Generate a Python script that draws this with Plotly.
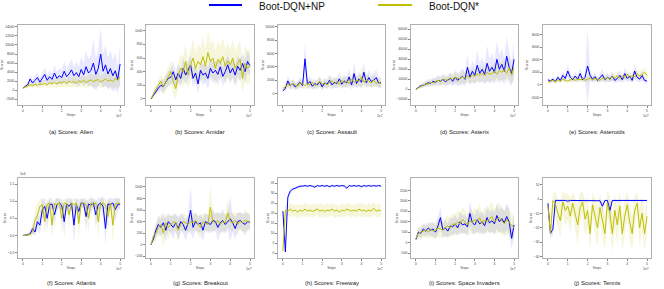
import plotly.graph_objects as go

# training steps (units of 1e7)
STEPS = [i * 0.125 for i in range(41)]

GAMES = ["Alien", "Amidar", "Assault", "Asterix", "Asteroids",
         "Atlantis", "Breakout", "Freeway", "Space Invaders", "Tennis"]
LETTERS = ["a", "b", "c", "d", "e", "f", "g", "h", "i", "j"]
LEGEND_NAMES = ["Boot-DQN+NP", "Boot-DQN*"]

# ---- Boot-DQN+NP (blue) means and spreads, Boot-DQN* (yellow) means and spreads ----
np_alien = [500, 900, 1200, 2500, 1600, 2200, 2800, 1800, 2600, 3500, 2200, 3000, 2400, 3800, 2600, 3200, 2800, 4200, 3000, 3600, 4500, 3200, 3900, 3000, 4600, 3400, 5200, 3800, 4400, 6000, 3500, 4800, 8000, 4200, 5600, 3600, 4800, 3200, 4300, 2400, 5800]
np_alien_sd = [200, 400, 600, 900, 800, 1000, 1100, 1000, 1200, 1500, 1200, 1400, 1300, 1800, 1500, 1700, 1600, 2200, 1800, 2000, 2500, 2000, 2400, 2200, 2800, 2500, 3500, 3000, 3200, 5500, 3500, 4000, 6000, 3800, 4500, 3500, 4200, 3500, 4000, 3000, 4500]
st_alien = [500, 700, 900, 1200, 1000, 1300, 1100, 1400, 1300, 1500, 1200, 1600, 1500, 1700, 1400, 1800, 1600, 1900, 1500, 2000, 1700, 1900, 1600, 2100, 1800, 2200, 1700, 2000, 2300, 1900, 2100, 2400, 1800, 2200, 2500, 2000, 2300, 1900, 2600, 2200, 3000]
st_alien_sd = [100, 300, 400, 500, 500, 600, 600, 700, 700, 800, 700, 900, 900, 1000, 900, 1000, 1000, 1100, 1000, 1200, 1100, 1200, 1100, 1300, 1200, 1300, 1200, 1300, 1400, 1300, 1400, 1500, 1300, 1500, 1600, 1400, 1600, 1500, 1800, 1600, 2000]

np_amidar = [0, 60, 120, 160, 200, 180, 250, 300, 320, 400, 280, 380, 300, 450, 350, 420, 500, 300, 380, 220, 420, 350, 380, 300, 450, 380, 420, 360, 470, 330, 400, 500, 380, 450, 350, 480, 420, 520, 400, 550, 480]
np_amidar_sd = [20, 40, 50, 60, 80, 90, 100, 110, 120, 150, 130, 140, 120, 150, 140, 130, 150, 140, 130, 150, 140, 150, 130, 160, 140, 150, 140, 160, 150, 140, 150, 160, 150, 140, 160, 150, 160, 150, 170, 160, 150]
st_amidar = [0, 80, 140, 200, 260, 180, 250, 320, 400, 250, 150, 350, 450, 400, 550, 350, 500, 600, 450, 550, 500, 620, 480, 680, 550, 600, 450, 580, 520, 620, 480, 560, 500, 600, 450, 520, 580, 300, 520, 450, 500]
st_amidar_sd = [20, 40, 60, 80, 100, 120, 130, 150, 160, 180, 150, 170, 200, 220, 250, 200, 230, 280, 220, 260, 250, 300, 240, 320, 260, 280, 250, 270, 260, 280, 250, 260, 240, 270, 250, 260, 280, 200, 260, 240, 250]

np_assault = [400, 800, 1900, 1200, 1500, 1000, 1300, 1700, 1200, 5200, 1400, 1800, 1100, 1500, 1300, 1800, 1000, 1600, 1400, 2000, 1300, 1700, 1500, 2200, 1400, 1900, 1600, 2500, 1300, 3000, 1500, 2200, 1700, 3200, 1600, 2400, 1800, 2000, 2400, 1600, 1600]
np_assault_sd = [200, 400, 800, 600, 700, 500, 600, 700, 600, 2500, 700, 800, 600, 700, 650, 800, 600, 700, 700, 900, 700, 800, 750, 1000, 700, 900, 800, 1300, 700, 1800, 800, 1100, 900, 1600, 800, 1200, 900, 1000, 1200, 800, 800]
st_assault = [800, 1000, 1400, 1200, 1500, 1300, 1100, 1600, 1400, 1200, 1500, 1300, 1700, 1200, 1500, 1800, 1400, 1600, 1300, 1700, 1900, 1500, 1800, 1400, 2000, 1600, 1900, 1500, 2200, 1700, 2000, 1800, 2500, 1700, 2100, 1900, 1600, 2000, 1500, 1800, 1400]
st_assault_sd = [300, 400, 600, 500, 600, 550, 500, 700, 600, 550, 650, 600, 700, 550, 650, 750, 600, 700, 600, 750, 800, 650, 750, 600, 850, 700, 800, 650, 900, 750, 850, 800, 1500, 750, 900, 800, 700, 850, 650, 750, 600]

np_asterix = [0, 2000, 3500, 4000, 5000, 6500, 6000, 8000, 7000, 9000, 8000, 10000, 7500, 9000, 11000, 8000, 12000, 9000, 11000, 13000, 10000, 22000, 12000, 18000, 14000, 24000, 16000, 20000, 15000, 26000, 18000, 22000, 17000, 30000, 20000, 25000, 18000, 33000, 22000, 16000, 30000]
np_asterix_sd = [500, 1500, 2000, 2500, 3000, 3500, 3500, 4000, 4000, 5000, 4500, 5500, 4500, 5000, 6000, 5000, 7000, 6000, 7000, 8000, 7000, 12000, 8000, 11000, 9000, 15000, 10000, 12000, 10000, 18000, 12000, 14000, 12000, 18000, 14000, 16000, 13000, 20000, 15000, 13000, 18000]
st_asterix = [0, 1500, 3000, 4000, 5500, 5000, 7000, 6500, 8000, 9000, 7500, 9500, 10000, 8500, 11000, 10000, 12000, 11000, 10500, 12500, 11000, 13000, 12000, 14000, 13000, 15000, 14000, 16000, 13500, 17000, 15000, 16000, 18000, 15000, 19000, 17000, 20000, 16000, 21000, 14000, 22000]
st_asterix_sd = [300, 1000, 1500, 2000, 2500, 2500, 3000, 3000, 3500, 4000, 3500, 4000, 4500, 4000, 5000, 5000, 5500, 5000, 5000, 6000, 5500, 6500, 6000, 7000, 6500, 7500, 7000, 8000, 7000, 8500, 7500, 8000, 9000, 8000, 9500, 9000, 10000, 9000, 11000, 9000, 12000]

np_asteroids = [800, 600, 900, 500, 1200, 700, 1500, 1000, 2200, 1200, 800, 1400, 900, 1800, 800, 1200, 3000, 1500, 900, 1300, 700, 1100, 1600, 800, 1200, 900, 1400, 700, 1000, 1500, 800, 1800, 1000, 1400, 700, 2200, 1200, 900, 1500, 700, 600]
np_asteroids_sd = [300, 300, 400, 300, 500, 400, 700, 500, 1000, 600, 400, 700, 500, 900, 400, 600, 6000, 800, 500, 700, 400, 600, 900, 500, 700, 500, 800, 400, 600, 900, 500, 1000, 600, 800, 400, 1200, 700, 500, 900, 400, 400]
st_asteroids = [400, 600, 700, 500, 800, 600, 900, 700, 600, 800, 1000, 700, 900, 800, 1000, 700, 900, 1100, 800, 1000, 900, 700, 1100, 900, 1200, 800, 1300, 1100, 1500, 1000, 1400, 1200, 1700, 1100, 1500, 1300, 1800, 1400, 1600, 2000, 1500]
st_asteroids_sd = [200, 300, 300, 300, 400, 300, 400, 350, 300, 400, 450, 350, 400, 400, 450, 350, 400, 500, 400, 450, 400, 350, 500, 400, 550, 400, 600, 500, 650, 450, 600, 550, 700, 500, 650, 600, 750, 600, 700, 800, 600]

np_atlantis = [0.0, 0.0, 0.02, 0.05, 0.2, 0.1, 0.4, 0.3, 0.75, 0.85, 0.5, 0.9, 0.92, 0.6, 0.9, 0.95, 0.88, 0.4, 0.92, 0.85, 0.95, 0.3, 0.9, 0.7, 0.95, 0.93, 0.55, 0.92, 0.88, 0.95, 0.6, 0.9, 0.95, 0.85, 0.2, 0.92, 0.9, 0.95, 0.75, 0.9, 0.92]
np_atlantis_sd = [0.02, 0.02, 0.03, 0.05, 0.15, 0.12, 0.25, 0.25, 0.3, 0.25, 0.35, 0.2, 0.15, 0.35, 0.2, 0.12, 0.2, 0.45, 0.15, 0.25, 0.12, 0.55, 0.2, 0.35, 0.12, 0.15, 0.45, 0.15, 0.25, 0.12, 0.4, 0.2, 0.15, 0.3, 0.5, 0.15, 0.2, 0.12, 0.35, 0.2, 0.15]
st_atlantis = [0.0, 0.0, 0.01, 0.03, 0.1, 0.45, 0.6, 0.85, 0.9, 0.4, 0.92, 0.95, 0.3, 0.93, 0.9, 0.95, 0.5, 0.95, 0.93, 0.6, 0.95, 0.9, 0.95, 0.35, 0.93, 0.95, 0.9, 0.5, 0.95, 0.92, 0.95, 0.4, 0.93, 0.95, 0.9, 0.55, 0.95, 0.3, 0.92, 0.95, 0.93]
st_atlantis_sd = [0.02, 0.02, 0.03, 0.05, 0.12, 0.3, 0.35, 0.2, 0.2, 0.4, 0.15, 0.12, 0.45, 0.15, 0.2, 0.12, 0.45, 0.12, 0.15, 0.4, 0.12, 0.2, 0.12, 0.5, 0.15, 0.12, 0.2, 0.45, 0.12, 0.15, 0.12, 0.5, 0.15, 0.12, 0.2, 0.45, 0.12, 0.5, 0.15, 0.12, 0.15]

np_breakout = [0, 100, 250, 350, 300, 380, 250, 400, 350, 300, 380, 280, 400, 350, 250, 380, 600, 300, 400, 350, 380, 250, 400, 380, 350, 420, 400, 300, 380, 420, 350, 400, 450, 380, 280, 400, 420, 380, 350, 400, 390]
np_breakout_sd = [20, 60, 120, 150, 150, 180, 200, 150, 150, 200, 150, 200, 150, 150, 180, 150, 400, 200, 150, 150, 150, 200, 150, 150, 150, 200, 150, 250, 150, 200, 150, 150, 400, 150, 200, 150, 150, 150, 200, 150, 120]
st_breakout = [0, 150, 200, 300, 350, 200, 380, 300, 350, 400, 380, 250, 350, 400, 380, 350, 400, 380, 420, 350, 300, 400, 380, 350, 650, 400, 380, 420, 350, 400, 380, 550, 400, 380, 420, 350, 400, 380, 420, 400, 390]
st_breakout_sd = [20, 80, 150, 150, 200, 250, 150, 200, 150, 150, 150, 200, 150, 150, 150, 150, 150, 150, 150, 150, 200, 150, 150, 150, 400, 150, 150, 150, 200, 150, 150, 250, 150, 150, 150, 200, 150, 150, 200, 150, 150]

np_freeway = [21, 0.5, 28, 31, 32, 32.5, 33, 33.5, 33.5, 33.8, 33.5, 33.8, 33.5, 33, 33.8, 33.5, 33.8, 33.5, 33.8, 33.2, 33.8, 33.5, 33.8, 33.5, 33.8, 33.6, 32.5, 33.8, 33.5, 33.8, 33.5, 33.8, 33.2, 33.8, 33.5, 33.8, 33.5, 33.8, 33.5, 33.8, 33.5]
np_freeway_sd = [1, 0.5, 1.5, 1.2, 1, 1, 0.8, 0.6, 0.6, 0.5, 0.6, 0.5, 0.6, 0.8, 0.5, 0.6, 0.5, 0.6, 0.5, 0.8, 0.5, 0.6, 0.5, 0.6, 0.5, 0.6, 1.2, 0.5, 0.6, 0.5, 0.6, 0.5, 0.8, 0.5, 0.6, 0.5, 0.6, 0.5, 0.6, 0.5, 0.6]
st_freeway = [1, 21.5, 21, 22, 21, 21.5, 20.5, 21.5, 21, 22, 21, 21.5, 20.8, 21.5, 22, 21, 21.5, 20.8, 21.5, 21.2, 22, 21, 21.5, 20.5, 21.5, 21, 22, 21.5, 21, 21.5, 21, 22, 21.2, 21.5, 20.8, 21.5, 21, 22.5, 21, 21.5, 21]
st_freeway_sd = [1, 3, 2.8, 3.4, 3.1, 2.7, 3.5, 3.0, 2.9, 3.6, 3.2, 2.8, 3.3, 3.1, 2.6, 3.4, 3.0, 3.2, 3.5, 2.9, 3.1, 3.6, 3.0, 2.8, 3.4, 3.2, 2.9, 3.5, 3.1, 3.0, 3.3, 2.8, 3.4, 3.2, 3.0, 3.6, 2.9, 3.3, 3.1, 3.4, 3.0]

np_space = [150, 500, 450, 650, 550, 700, 600, 650, 500, 800, 1200, 600, 700, 550, 800, 750, 900, 700, 1000, 850, 900, 750, 1400, 950, 850, 1100, 900, 1000, 800, 1200, 950, 1050, 900, 1300, 1000, 1150, 950, 1250, 1000, 200, 850]
np_space_sd = [100, 200, 250, 300, 250, 300, 300, 350, 300, 400, 500, 350, 400, 350, 400, 400, 450, 400, 500, 450, 450, 400, 600, 500, 450, 550, 500, 500, 450, 600, 500, 550, 500, 650, 550, 600, 550, 650, 600, 500, 600]
st_space = [200, 450, 500, 550, 600, 500, 650, 550, 600, 700, 650, 600, 750, 800, 700, 900, 850, 1000, 900, 1100, 1000, 850, 1050, 950, 1100, 1000, 1200, 900, 1100, 1000, 1150, 1250, 1000, 1100, 1200, 1050, 900, 1100, 950, 800, 700]
st_space_sd = [100, 250, 300, 300, 350, 300, 400, 350, 400, 450, 400, 400, 450, 500, 450, 550, 500, 550, 500, 600, 550, 500, 600, 550, 600, 550, 650, 550, 600, 550, 650, 700, 600, 650, 700, 650, 600, 700, 650, 600, 550]

np_tennis = [-3, -24, -21, -1, -1, -1.2, -1, -1, -1.5, -1, -1, -1, -1, -1.5, -1, -1, -1, -1, -1, -1, -1, -1.2, -5, -1, -1, -8, -1, -1, -1.5, -1, -1, -1, -1, -1, -1.2, -1, -1, -1, -1.5, -1, -1]
np_tennis_sd = [2, 3, 4, 1, 0.5, 1, 0.5, 0.5, 1, 0.5, 0.5, 0.5, 0.5, 1, 0.5, 0.5, 0.5, 0.5, 0.5, 0.5, 0.5, 1, 5, 0.5, 0.5, 8, 0.5, 0.5, 1, 0.5, 0.5, 0.5, 0.5, 0.5, 1, 0.5, 0.5, 0.5, 1, 0.5, 0.5]
st_tennis = [-5, -24, -1, -3, -10, -15, -2, -8, -5, -12, -3, -10, -18, -6, -2, -14, -8, -24, -4, -12, -20, -6, -15, -24, -3, -10, -24, -8, -18, -5, -24, -12, -4, -16, -24, -8, -3, -20, -10, -24, -12]
st_tennis_sd = [4, 6, 5, 8, 10, 12, 8, 11, 9, 12, 8, 11, 14, 10, 8, 12, 10, 12, 9, 12, 14, 10, 12, 12, 9, 12, 13, 11, 13, 10, 12, 12, 9, 13, 12, 11, 8, 13, 12, 12, 12]

SERIES = [
    (np_alien, np_alien_sd, st_alien, st_alien_sd),
    (np_amidar, np_amidar_sd, st_amidar, st_amidar_sd),
    (np_assault, np_assault_sd, st_assault, st_assault_sd),
    (np_asterix, np_asterix_sd, st_asterix, st_asterix_sd),
    (np_asteroids, np_asteroids_sd, st_asteroids, st_asteroids_sd),
    (np_atlantis, np_atlantis_sd, st_atlantis, st_atlantis_sd),
    (np_breakout, np_breakout_sd, st_breakout, st_breakout_sd),
    (np_freeway, np_freeway_sd, st_freeway, st_freeway_sd),
    (np_space, np_space_sd, st_space, st_space_sd),
    (np_tennis, np_tennis_sd, st_tennis, st_tennis_sd),
]

Y_RANGES = [[-3250, 14400], [-88, 1083], [-1700, 10250], [-15700, 64300], [-3200, 9500],
            [-0.66, 1.68], [-230, 1155], [-2.5, 37.6], [-740, 3100], [-41, 14.6]]
Y_TICKS = [list(range(-2000, 14001, 2000)), list(range(0, 1001, 200)),
           list(range(0, 10001, 2000)), list(range(-10000, 60001, 10000)),
           list(range(-2000, 8001, 2000)), [-0.5, 0.0, 0.5, 1.0, 1.5],
           list(range(-200, 1001, 200)), list(range(0, 36, 5)),
           list(range(-500, 2501, 500)), list(range(-40, 11, 10))]
X_TICKS = [0, 1, 2, 3, 4, 5]

BLUE = "#0000ff"
YELLOW = "#bfbf00"
BLUE_BAND = "rgba(0,0,255,0.09)"
YELLOW_BAND = "rgba(191,191,0,0.14)"
FONT = "Liberation Sans, Arial, sans-serif"

W, H = 664, 289
COLS = [(18, 124), (146, 254), (278, 385), (411, 518), (543, 651)]
ROWS = [(25, 105), (178, 258)]

fig = go.Figure()
layout = {}
annotations = []
shapes = []
for k in range(10):
    r, c = divmod(k, 5)
    sfx = "" if k == 0 else str(k + 1)
    xa, ya = "x" + sfx, "y" + sfx
    blue, bsd, yel, ysd = SERIES[k]
    for mean, sd, fc in [(yel, ysd, YELLOW_BAND), (blue, bsd, BLUE_BAND)]:
        up = [m + s for m, s in zip(mean, sd)]
        lo = [m - s for m, s in zip(mean, sd)]
        fig.add_trace(go.Scatter(x=STEPS + STEPS[::-1], y=up + lo[::-1], fill="toself",
                                 fillcolor=fc, line=dict(width=0), mode="lines",
                                 hoverinfo="skip", showlegend=False, xaxis=xa, yaxis=ya))
    fig.add_trace(go.Scatter(x=STEPS, y=blue, mode="lines", line=dict(color=BLUE, width=1),
                             name=LEGEND_NAMES[0], showlegend=False, xaxis=xa, yaxis=ya))
    fig.add_trace(go.Scatter(x=STEPS, y=yel, mode="lines", line=dict(color=YELLOW, width=1),
                             name=LEGEND_NAMES[1], showlegend=False, xaxis=xa, yaxis=ya))
    c0, c1 = COLS[c]
    r0, r1 = ROWS[r]
    axcommon = dict(showline=True, mirror=True, linecolor="#b0b0b0", linewidth=1,
                    ticks="outside", ticklen=2, tickcolor="#888", tickwidth=0.6,
                    showgrid=False, zeroline=False,
                    tickfont=dict(size=3.3, color="#444", family=FONT))
    layout["xaxis" + sfx] = dict(domain=[c0 / W, c1 / W], anchor=ya, range=[-0.25, 5.2],
                                 tickvals=X_TICKS,
                                 title=dict(text="Steps", font=dict(size=3.3, color="#444", family=FONT), standoff=1),
                                 **axcommon)
    ytf = ".1f" if k == 5 else "d"
    layout["yaxis" + sfx] = dict(domain=[1 - r1 / H, 1 - r0 / H], anchor=xa, range=Y_RANGES[k],
                                 tickvals=Y_TICKS[k], tickformat=ytf,
                                 title=dict(text="Scores", font=dict(size=3.3, color="#444", family=FONT), standoff=1),
                                 **axcommon)
    annotations.append(dict(text="1e7", xref=xa + " domain", yref=ya + " domain", x=1.0, y=-0.09,
                            xanchor="right", yanchor="top", showarrow=False,
                            font=dict(size=3.3, color="#444", family=FONT)))
    if k == 5:
        annotations.append(dict(text="1e6", xref=xa + " domain", yref=ya + " domain", x=0.0, y=1.0,
                                xanchor="left", yanchor="bottom", showarrow=False,
                                font=dict(size=3.3, color="#444", family=FONT)))
    ty = 1 - (132 if r == 0 else 283) / H
    annotations.append(dict(text=f"({LETTERS[k]}) Scores: {GAMES[k]}", xref="paper", yref="paper",
                            x=(c0 + c1) / 2 / W, y=ty, xanchor="center", yanchor="middle",
                            showarrow=False, font=dict(size=6, color="#222", family=FONT)))

# figure-level legend (key swatches + labels) at top centre
LEG_Y = 1 - 5 / H
for (sx0, sx1, tx), col, name in zip([(209, 242, 258), (378, 412, 428)], [BLUE, YELLOW], LEGEND_NAMES):
    shapes.append(dict(type="line", xref="paper", yref="paper", x0=sx0 / W, x1=sx1 / W,
                       y0=LEG_Y, y1=LEG_Y, line=dict(color=col, width=2)))
    annotations.append(dict(text=name, xref="paper", yref="paper", x=tx / W, y=1.0,
                            xanchor="left", yanchor="top", showarrow=False, borderpad=0,
                            font=dict(size=10, color="#111", family=FONT)))

fig.update_layout(
    width=W, height=H, margin=dict(l=0, r=0, t=0, b=0),
    paper_bgcolor="white", plot_bgcolor="white",
    font=dict(family=FONT),
    showlegend=False,
    annotations=annotations,
    shapes=shapes,
    **layout,
)

fig.write_html("out.html", config={"displayModeBar": False},
               post_script="document.body.style.margin='0';")
